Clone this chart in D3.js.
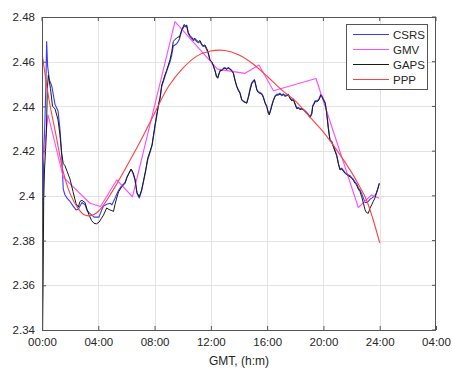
<!DOCTYPE html>
<html>
<head>
<meta charset="utf-8">
<script src="https://cdn.jsdelivr.net/npm/d3@7"></script>
<style>
  html, body { margin: 0; padding: 0; background: #fff; }
  svg { display: block; }
  text { font-family: "Liberation Sans", Arial, Helvetica, sans-serif; fill: #262626; }
</style>
</head>
<body>
<svg id="chart" width="452" height="369"></svg>
<script>
// Axis ticks (hours since 00:00 GMT) and their labels
const xTicks = [0, 4, 8, 12, 16, 20, 24, 28];
const xTickLabels = ["00:00", "04:00", "08:00", "12:00", "16:00", "20:00", "24:00", "04:00"];
const yTicks = [2.34, 2.36, 2.38, 2.40, 2.42, 2.44, 2.46, 2.48];
const yTickLabels = ["2.34", "2.36", "2.38", "2.4", "2.42", "2.44", "2.46", "2.48"];

const seriesNames = ["CSRS", "GMV", "GAPS", "PPP"];

// GAPS solution (hours, value)
const gapsTime = [0.00, 0.04, 0.08, 0.12, 0.18, 0.25, 0.31, 0.38, 0.45, 0.60, 0.75, 0.92, 1.14, 1.28, 1.40, 1.51, 1.63, 1.78, 1.99, 2.20,
  2.42, 2.58, 2.70, 2.84, 3.06, 3.20, 3.34, 3.52, 3.70, 3.87, 4.05, 4.23, 4.37, 4.60, 4.73, 4.83, 4.97, 5.08, 5.19, 5.33,
  5.44, 5.66, 5.90, 6.04, 6.18, 6.33, 6.47, 6.61, 6.75, 6.91, 7.07, 7.20, 7.37, 7.51, 7.68, 7.82, 8.03, 8.27, 8.39, 8.51,
  8.64, 8.74, 8.85, 8.98, 9.10, 9.22, 9.33, 9.45, 9.57, 9.67, 9.76, 9.84, 9.93, 10.02, 10.11, 10.20, 10.28, 10.40, 10.52, 10.63,
  10.75, 10.87, 10.99, 11.11, 11.23, 11.34, 11.46, 11.58, 11.70, 11.82, 11.94, 12.06, 12.17, 12.30, 12.40, 12.49, 12.58, 12.69, 12.79, 12.90,
  13.01, 13.13, 13.24, 13.36, 13.48, 13.60, 13.72, 13.84, 13.96, 14.07, 14.19, 14.31, 14.43, 14.55, 14.67, 14.78, 14.90, 15.02, 15.10, 15.19,
  15.26, 15.37, 15.49, 15.61, 15.73, 15.85, 15.97, 16.09, 16.15, 16.24, 16.32, 16.44, 16.56, 16.68, 16.80, 16.91, 17.03, 17.15, 17.27, 17.39,
  17.51, 17.63, 17.75, 17.86, 17.98, 18.10, 18.22, 18.34, 18.46, 18.57, 18.69, 18.81, 18.93, 19.05, 19.17, 19.24, 19.33, 19.40, 19.52, 19.64,
  19.76, 19.81, 19.88, 20.00, 20.12, 20.22, 20.35, 20.47, 20.59, 20.66, 20.82, 20.94, 21.07, 21.18, 21.30, 21.42, 21.54, 21.66, 21.77, 21.89,
  22.01, 22.12, 22.24, 22.36, 22.48, 22.60, 22.72, 22.84, 22.96, 23.06, 23.19, 23.31, 23.43, 23.54, 23.66, 23.78, 23.88, 23.97];
const gapsValue = [2.430, 2.340, 2.362, 2.398, 2.412, 2.420, 2.428, 2.448, 2.454, 2.448, 2.440, 2.439, 2.434, 2.427, 2.419, 2.4145, 2.4135, 2.411, 2.4075, 2.402,
  2.3965, 2.3950, 2.3975, 2.3980, 2.3970, 2.3940, 2.3915, 2.3890, 2.3877, 2.3875, 2.3882, 2.3900, 2.3914, 2.3946, 2.3940, 2.3937, 2.3934, 2.3930, 2.3962, 2.3995,
  2.4018, 2.4040, 2.4056, 2.4082, 2.4100, 2.4120, 2.4105, 2.4075, 2.4015, 2.3996, 2.4025, 2.4063, 2.4116, 2.4168, 2.4200, 2.4228, 2.4317, 2.4406, 2.4440, 2.4496,
  2.4520, 2.4541, 2.4560, 2.4585, 2.4610, 2.4645, 2.4690, 2.4700, 2.4705, 2.4712, 2.4708, 2.4725, 2.4742, 2.4755, 2.4767, 2.4760, 2.4764, 2.4730, 2.4717, 2.4710,
  2.4700, 2.4705, 2.4695, 2.4690, 2.4695, 2.4680, 2.4672, 2.4675, 2.4660, 2.4640, 2.4608, 2.4600, 2.4585, 2.4560, 2.4533, 2.4526, 2.4545, 2.4563, 2.4560, 2.4570,
  2.4571, 2.4565, 2.4572, 2.4566, 2.4560, 2.4548, 2.4515, 2.4488, 2.4470, 2.4459, 2.4429, 2.4421, 2.4418, 2.4414, 2.4440, 2.4470, 2.4500, 2.4511, 2.4518, 2.4495,
  2.4474, 2.4462, 2.4458, 2.4455, 2.4440, 2.4415, 2.4399, 2.4368, 2.4362, 2.4380, 2.4400, 2.4425, 2.4444, 2.4450, 2.4451, 2.4455, 2.4448, 2.4452, 2.4445, 2.4448,
  2.4451, 2.4435, 2.4425, 2.4430, 2.4410, 2.4390, 2.4392, 2.4386, 2.4388, 2.4384, 2.4378, 2.4370, 2.4360, 2.4350, 2.4365, 2.4399, 2.4410, 2.4421, 2.4421, 2.4425,
  2.4440, 2.4451, 2.4445, 2.4429, 2.4414, 2.4375, 2.4300, 2.4245, 2.4240, 2.4228, 2.4200, 2.4180, 2.4140, 2.4116, 2.4120, 2.4110, 2.4100, 2.4095, 2.4090, 2.4086,
  2.4078, 2.4070, 2.4056, 2.4049, 2.4030, 2.4019, 2.3996, 2.3967, 2.3937, 2.3925, 2.3922, 2.3945, 2.3960, 2.3975, 2.3990, 2.4015, 2.4035, 2.4056];

// CSRS solution (hours, value)
const csrsTime = [0.00, 0.03, 0.07, 0.12, 0.20, 0.27, 0.33, 0.40, 0.52, 0.70, 0.92, 1.14, 1.28, 1.40, 1.51, 1.63, 1.78, 1.99, 2.20, 2.42,
  2.58, 2.70, 2.84, 3.06, 3.20, 3.34, 3.52, 3.70, 3.87, 4.05, 4.23, 4.37, 4.60, 4.83, 4.97, 5.08, 5.19, 5.33, 5.44, 5.66,
  5.90, 6.04, 6.18, 6.33, 6.47, 6.61, 6.75, 6.91, 7.07, 7.20, 7.37, 7.51, 7.68, 7.82, 8.03, 8.27, 8.39, 8.51, 8.64, 8.74,
  8.85, 8.98, 9.10, 9.22, 9.33, 9.45, 9.57, 9.67, 9.76, 9.84, 9.93, 10.02, 10.11, 10.20, 10.28, 10.40, 10.52, 10.63, 10.75, 10.87,
  10.99, 11.11, 11.23, 11.34, 11.46, 11.58, 11.70, 11.82, 11.94, 12.06, 12.17, 12.30, 12.40, 12.49, 12.58, 12.69, 12.79, 12.90, 13.01, 13.13,
  13.24, 13.36, 13.48, 13.60, 13.72, 13.84, 13.96, 14.07, 14.19, 14.31, 14.43, 14.55, 14.67, 14.78, 14.90, 15.02, 15.10, 15.19, 15.26, 15.37,
  15.49, 15.61, 15.73, 15.85, 15.97, 16.09, 16.15, 16.24, 16.32, 16.44, 16.56, 16.68, 16.80, 16.91, 17.03, 17.15, 17.27, 17.39, 17.51, 17.63,
  17.75, 17.86, 17.98, 18.10, 18.22, 18.34, 18.46, 18.57, 18.69, 18.81, 18.93, 19.05, 19.17, 19.24, 19.33, 19.40, 19.52, 19.64, 19.76, 19.81,
  19.88, 20.00, 20.12, 20.22, 20.35, 20.47, 20.59, 20.66, 20.82, 20.94, 21.07, 21.18, 21.30, 21.42, 21.54, 21.66, 21.77, 21.89, 22.01, 22.12,
  22.24, 22.36, 22.48, 22.60, 22.72, 22.84, 22.96, 23.06, 23.19, 23.31, 23.43, 23.54, 23.66, 23.78, 23.88, 23.97];
const csrsValue = [2.455, 2.440, 2.390, 2.418, 2.432, 2.448, 2.469, 2.458, 2.452, 2.449, 2.441, 2.438, 2.4295, 2.418, 2.403, 2.4005, 2.399, 2.3975, 2.3955, 2.3937,
  2.3940, 2.3955, 2.3970, 2.3960, 2.3935, 2.3925, 2.3915, 2.3905, 2.3905, 2.3905, 2.3935, 2.3955, 2.3962, 2.3967, 2.3960, 2.3975, 2.3989, 2.4010, 2.4025, 2.4045,
  2.4060, 2.4085, 2.4102, 2.4118, 2.4100, 2.4070, 2.4010, 2.3990, 2.4020, 2.4060, 2.4112, 2.4160, 2.4195, 2.4225, 2.4310, 2.4400, 2.4435, 2.4490, 2.4515, 2.4535,
  2.4555, 2.4580, 2.4600, 2.4630, 2.4670, 2.4675, 2.4680, 2.4690, 2.4700, 2.4718, 2.4738, 2.4750, 2.4760, 2.4756, 2.4760, 2.4725, 2.4712, 2.4702, 2.4695, 2.4700,
  2.4690, 2.4685, 2.4690, 2.4676, 2.4668, 2.4670, 2.4655, 2.4635, 2.4605, 2.4598, 2.4582, 2.4558, 2.4535, 2.4530, 2.4548, 2.4565, 2.4562, 2.4572, 2.4573, 2.4568,
  2.4574, 2.4568, 2.4562, 2.4550, 2.4518, 2.4492, 2.4474, 2.4462, 2.4432, 2.4424, 2.4420, 2.4417, 2.4445, 2.4478, 2.4506, 2.4515, 2.4520, 2.4498, 2.4478, 2.4466,
  2.4462, 2.4458, 2.4444, 2.4418, 2.4402, 2.4372, 2.4366, 2.4384, 2.4404, 2.4428, 2.4447, 2.4454, 2.4455, 2.4459, 2.4452, 2.4456, 2.4449, 2.4452, 2.4454, 2.4438,
  2.4428, 2.4433, 2.4413, 2.4394, 2.4395, 2.4390, 2.4391, 2.4387, 2.4381, 2.4373, 2.4364, 2.4355, 2.4370, 2.4404, 2.4414, 2.4425, 2.4425, 2.4429, 2.4444, 2.4455,
  2.4449, 2.4433, 2.4418, 2.4380, 2.4305, 2.4250, 2.4244, 2.4232, 2.4204, 2.4184, 2.4145, 2.4120, 2.4124, 2.4114, 2.4104, 2.4099, 2.4094, 2.4090, 2.4082, 2.4075,
  2.4062, 2.4054, 2.4036, 2.4026, 2.4010, 2.3990, 2.3970, 2.3970, 2.3975, 2.3985, 2.3990, 2.3995, 2.4000, 2.4015, 2.4035, 2.4056];

// GMV solution (hours, value)
const gmvTime = [0.00, 0.43, 1.51, 3.41, 4.16, 5.31, 6.43, 9.45, 12.47, 14.43, 15.42, 16.45, 19.47, 22.48, 23.43, 23.97];
const gmvValue = [2.4116, 2.4362, 2.4084, 2.3967, 2.3952, 2.4071, 2.3996, 2.4779, 2.4567, 2.4548, 2.4585, 2.4470, 2.4525, 2.3948, 2.4004, 2.3989];

// PPP solution (hours, value)
const pppTime = [0, 0.5, 1, 1.5, 2, 2.5, 3, 3.5, 4, 5, 6, 7, 8, 9, 10, 11, 12, 13, 14, 15, 16, 17, 18, 19, 20, 21, 22, 22.5, 23, 23.5, 24];
const pppValue = [2.464, 2.443, 2.427, 2.411, 2.401, 2.395, 2.3915, 2.3912, 2.393, 2.402, 2.413, 2.4245, 2.437, 2.449, 2.457, 2.4625, 2.4648, 2.465, 2.463, 2.459,
  2.4535, 2.4475, 2.4425, 2.4355, 2.4285, 2.420, 2.4105, 2.405, 2.399, 2.390, 2.379];

const svg = d3.select("#chart");
const margin = { left: 42, right: 16, top: 17, bottom: 39 };
const W = 452, H = 369;
const x = d3.scaleLinear().domain([0, 28]).range([margin.left, W - margin.right]);
const y = d3.scaleLinear().domain([2.34, 2.48]).range([H - margin.bottom, margin.top]);

const x0 = x.range()[0], x1 = x.range()[1], y0 = y.range()[0], y1 = y.range()[1];

// grid
const grid = svg.append("g");
grid.selectAll(".gx").data(xTicks.slice(1, -1)).enter().append("line")
  .attr("x1", d => Math.round(x(d)) + 0.5).attr("x2", d => Math.round(x(d)) + 0.5)
  .attr("y1", y1).attr("y2", y0).attr("stroke", "#e3e3e3").attr("stroke-width", 1);
grid.selectAll(".gy").data(yTicks.slice(1, -1)).enter().append("line")
  .attr("y1", d => Math.round(y(d)) + 0.5).attr("y2", d => Math.round(y(d)) + 0.5)
  .attr("x1", x0).attr("x2", x1).attr("stroke", "#e3e3e3").attr("stroke-width", 1);

// clip to the plotting box
svg.append("defs").append("clipPath").attr("id", "plotClip")
  .append("rect").attr("x", x0).attr("y", y1).attr("width", x1 - x0).attr("height", y0 - y1);

const plot = svg.append("g").attr("clip-path", "url(#plotClip)");

function pairs(t, v) { return t.map((d, i) => [d, v[i]]); }
const line = d3.line().x(d => x(d[0])).y(d => y(d[1]));
const smooth = d3.line().x(d => x(d[0])).y(d => y(d[1])).curve(d3.curveCatmullRom.alpha(0.5));

const colors = { CSRS: "#3a3aff", GMV: "#ff4dff", GAPS: "#1a1a1a", PPP: "#ff4040" };

plot.append("path").datum(pairs(csrsTime, csrsValue)).attr("d", line)
  .attr("fill", "none").attr("stroke", colors.CSRS).attr("stroke-width", 1.1).attr("stroke-linejoin", "round");
plot.append("path").datum(pairs(gmvTime, gmvValue)).attr("d", line)
  .attr("fill", "none").attr("stroke", colors.GMV).attr("stroke-width", 1.1).attr("stroke-linejoin", "round");
plot.append("path").datum(pairs(gapsTime, gapsValue)).attr("d", line)
  .attr("fill", "none").attr("stroke", colors.GAPS).attr("stroke-width", 1).attr("stroke-linejoin", "round");
plot.append("path").datum(pairs(pppTime, pppValue)).attr("d", smooth)
  .attr("fill", "none").attr("stroke", colors.PPP).attr("stroke-width", 1.1);

// axes box with inward ticks
const axisColor = "#555";
const xAxis = d3.axisBottom(x).tickValues(xTicks).tickSizeInner(-4).tickSizeOuter(0)
  .tickFormat((d, i) => xTickLabels[i]).tickPadding(8);
const gx = svg.append("g").attr("transform", `translate(0,${y0})`).call(xAxis);
gx.select(".domain").remove();
gx.selectAll(".tick line").attr("stroke", axisColor);
gx.selectAll(".tick text").attr("font-size", 11.5).attr("fill", "#262626")
  .style("font-family", "'Liberation Sans', Arial, sans-serif");

const yAxis = d3.axisLeft(y).tickValues(yTicks).tickSizeInner(-4).tickSizeOuter(0)
  .tickFormat((d, i) => yTickLabels[i]).tickPadding(7);
const gy = svg.append("g").attr("transform", `translate(${x0},0)`).call(yAxis);
gy.select(".domain").remove();
gy.selectAll(".tick line").attr("stroke", axisColor);
gy.selectAll(".tick text").attr("font-size", 11.5).attr("fill", "#262626")
  .style("font-family", "'Liberation Sans', Arial, sans-serif");

// ticks on top and right edges
svg.append("g").selectAll("line").data(xTicks).enter().append("line")
  .attr("x1", d => x(d)).attr("x2", d => x(d)).attr("y1", y1).attr("y2", y1 + 4).attr("stroke", axisColor);
svg.append("g").selectAll("line").data(yTicks).enter().append("line")
  .attr("y1", d => y(d)).attr("y2", d => y(d)).attr("x1", x1).attr("x2", x1 - 4).attr("stroke", axisColor);

svg.append("rect").attr("x", x0 + 0.5).attr("y", y1 + 0.5).attr("width", x1 - x0 - 1).attr("height", y0 - y1)
  .attr("fill", "none").attr("stroke", axisColor).attr("stroke-width", 1);

// x-axis title
svg.append("text").attr("x", (x0 + x1) / 2).attr("y", 365).attr("text-anchor", "middle")
  .attr("font-size", 12).text("GMT, (h:m)");

// legend
const lg = svg.append("g").attr("transform", "translate(346,24)");
lg.append("rect").attr("x", 0.5).attr("y", 0.5).attr("width", 81).attr("height", 65)
  .attr("fill", "#fff").attr("stroke", axisColor).attr("stroke-width", 1);
seriesNames.forEach((name, i) => {
  const yy = 10.5 + i * 15;
  lg.append("line").attr("x1", 7).attr("x2", 43).attr("y1", yy).attr("y2", yy)
    .attr("stroke", colors[name]).attr("stroke-width", 1.1);
  lg.append("text").attr("x", 47).attr("y", yy + 4).attr("font-size", 11.5).text(name);
});
</script>
</body>
</html>
